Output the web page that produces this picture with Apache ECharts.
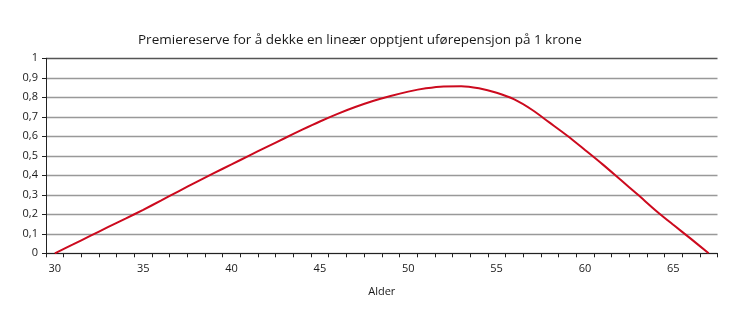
<!DOCTYPE html>
<html>
<head>
<meta charset="utf-8">
<script src="https://cdn.jsdelivr.net/npm/echarts@6/dist/echarts.min.js"></script>
<style>html,body{margin:0;padding:0;background:#fff;}#c{width:730px;height:311px;}</style>
</head>
<body>
<div id="c"></div>
<script>
var titleText = 'Premiereserve for å dekke en lineær opptjent uførepensjon på 1 krone';
var xName = 'Alder';
var ages = [30,31,32,33,34,35,36,37,38,39,40,41,42,43,44,45,46,47,48,49,50,51,52,53,54,55,56,57,58,59,60,61,62,63,64,65,66,67];
var reserve = [0,0.044,0.089,0.134,0.178,0.223,0.27,0.318,0.365,0.411,0.456,0.501,0.546,0.59,0.634,0.676,0.715,0.75,0.781,0.807,0.829,0.846,0.856,0.857,0.846,0.823,0.789,0.736,0.67,0.603,0.53,0.456,0.378,0.3,0.22,0.146,0.074,0];

var chart = echarts.init(document.getElementById('c'), null, {renderer:'canvas'});
var font = '"Open Sans", sans-serif';
chart.setOption({
  animation: false,
  title: {
    text: titleText, left: 133, top: 28,
    textStyle: {fontFamily: font, fontSize: 13.5, fontWeight: 'normal', color: '#1a1a1a'}
  },
  grid: {left: 46, right: 12.5, top: 58.3, bottom: 57.7, containLabel: false},
  xAxis: {
    type: 'category', data: ages, boundaryGap: true,
    name: xName, nameLocation: 'middle', nameGap: 33,
    nameTextStyle: {fontFamily: font, fontSize: 11, color: '#1a1a1a'},
    axisLine: {lineStyle: {color: '#222', width: 1}},
    axisTick: {show: true, interval: 0, length: 4, lineStyle: {color: '#222'}},
    axisLabel: {
      interval: function(i, v){ return (+v) % 5 === 0; },
      fontFamily: font, fontSize: 11, color: '#1a1a1a', margin: 10
    },
    splitLine: {show: false}
  },
  yAxis: {
    type: 'value', min: 0, max: 1, interval: 0.1,
    axisLine: {show: true, lineStyle: {color: '#222', width: 1}},
    axisTick: {show: true, length: 4, lineStyle: {color: '#222'}},
    axisLabel: {
      fontFamily: font, fontSize: 11, color: '#1a1a1a', margin: 8,
      formatter: function(v){ return (Math.round(v*10)/10).toString().replace('.', ','); }
    },
    splitLine: {show: true, lineStyle: {color: ['#999','#999','#999','#999','#999','#999','#999','#999','#999','#999','#555'], width: 1.3}}
  },
  series: [{
    type: 'line', data: reserve, smooth: 0.3, symbol: 'none',
    lineStyle: {color: '#cc0a1e', width: 2}
  }]
});
</script>
</body>
</html>
